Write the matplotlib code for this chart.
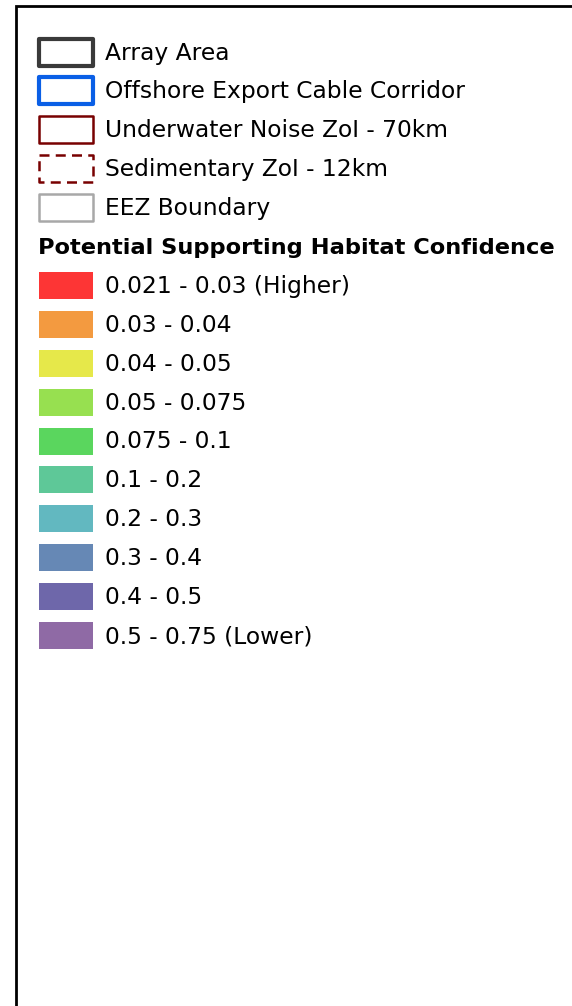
import matplotlib
matplotlib.use("Agg")
import matplotlib.pyplot as plt
from matplotlib.patches import Rectangle

# boundary layers shown as outlines
outline_labels = ["Array Area", "Offshore Export Cable Corridor",
                  "Underwater Noise ZoI - 70km", "Sedimentary ZoI - 12km",
                  "EEZ Boundary"]
outline_colors = ["#3a3a3a", "#0a5fe6", "#780000", "#780000", "#a8a8a8"]
outline_widths = [3.0, 3.0, 1.8, 1.8, 1.8]
outline_styles = ["solid", "solid", "solid", (0, (4, 2.5)), "solid"]

title = "Potential Supporting Habitat Confidence"

# habitat confidence classes
class_labels = ["0.021 - 0.03 (Higher)", "0.03 - 0.04", "0.04 - 0.05",
                "0.05 - 0.075", "0.075 - 0.1", "0.1 - 0.2", "0.2 - 0.3",
                "0.3 - 0.4", "0.4 - 0.5", "0.5 - 0.75 (Lower)"]
class_colors = ["#fd3535", "#f39a40", "#e6e84a", "#97e050", "#5ad65e",
                "#5ec898", "#62b8c0", "#6688b5", "#6e67aa", "#8f6aa5"]

W, H = 572, 1006
fig = plt.figure(figsize=(W / 100, H / 100), dpi=100)
ax = fig.add_axes([0, 0, 1, 1])
ax.set_xlim(0, W)
ax.set_ylim(H, 0)
ax.axis("off")

font = "DejaVu Sans"
fs = 16.8
fs_title = 16.2
step = 38.9

# frame (runs off the right and bottom edges)
ax.plot([16, 16, W + 5], [H + 5, 6, 6], color="black", lw=2,
        solid_joinstyle="miter")

y0 = 52
for i, (lab, c, lw, ls) in enumerate(zip(outline_labels, outline_colors,
                                         outline_widths, outline_styles)):
    yc = y0 + i * step
    ax.add_patch(Rectangle((39, yc - 13.5), 54, 27, fill=False, edgecolor=c,
                           lw=lw, linestyle=ls, joinstyle="round"))
    ax.text(105, yc + 1, lab, fontsize=fs, family=font, va="center",
            ha="left", color="black")

ty = y0 + 5 * step
ax.text(38, ty + 1, title, fontsize=fs_title, family=font, weight="bold",
        va="center", ha="left", color="black")

for i, (lab, c) in enumerate(zip(class_labels, class_colors)):
    yc = ty + (i + 1) * step
    ax.add_patch(Rectangle((39, yc - 13.5), 54, 27, facecolor=c,
                           edgecolor="none"))
    ax.text(105, yc + 1, lab, fontsize=fs, family=font, va="center",
            ha="left", color="black")

fig.savefig("out.png", dpi=100, facecolor="white")
